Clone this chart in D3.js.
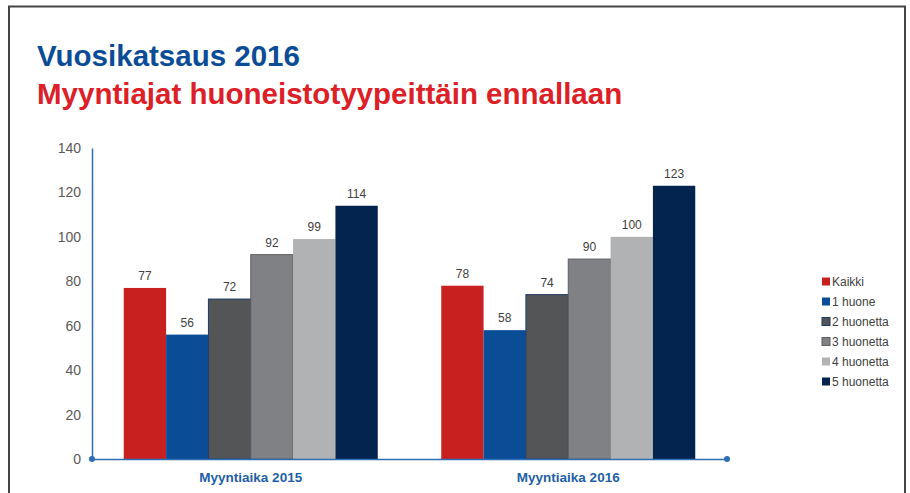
<!DOCTYPE html>
<html>
<head>
<meta charset="utf-8">
<script src="https://cdn.jsdelivr.net/npm/d3@7"></script>
<style>
	body { margin: 0; background: #fff; }
	svg { display: block; font-family: "Liberation Sans", Arial, sans-serif; }
</style>
</head>
<body>
<svg width="910" height="493"></svg>
<script>
/* DATA */
var categories = ["Myyntiaika 2015", "Myyntiaika 2016"];
var series = ["Kaikki", "1 huone", "2 huonetta", "3 huonetta", "4 huonetta", "5 huonetta"];
var values2015 = [77, 56, 72, 92, 99, 114];
var values2016 = [78, 58, 74, 90, 100, 123];
var yTicks = [0, 20, 40, 60, 80, 100, 120, 140];

var colors = ["#c8201f", "#0b4c97", "#545557", "#808184", "#b1b2b4", "#03244f"];
var strokes = ["none", "none", "#1d3a66", "#5e5f61", "none", "none"];

var rows = [values2015, values2016];

/* SVG */
var svg = d3.select("svg");

// frame
svg.append("rect")
	.attr("x", 9).attr("y", 6.5)
	.attr("width", 896).attr("height", 520)
	.attr("fill", "none")
	.attr("stroke", "#444")
	.attr("stroke-width", 2);

// titles
svg.append("text")
	.attr("x", 37).attr("y", 66)
	.attr("fill", "#0b4c97")
	.attr("font-weight", "bold")
	.attr("font-size", 29.5)
	.text("Vuosikatsaus 2016");

svg.append("text")
	.attr("x", 37).attr("y", 104)
	.attr("fill", "#dd2027")
	.attr("font-weight", "bold")
	.attr("font-size", 29.5)
	.text("Myyntiajat huoneistotyypeittäin ennallaan");

/* SCALES */
var x0 = d3.scaleBand()
	.domain(categories)
	.range([92, 727])
	.paddingInner(0.2)
	.paddingOuter(0.1);

var x1 = d3.scaleBand()
	.domain(series)
	.range([0, x0.bandwidth()]);

var y = d3.scaleLinear()
	.domain([0, 140])
	.range([459, 148]);

/* BARS */
var group = svg.append("g")
	.selectAll("g")
	.data(categories)
	.enter()
	.append("g")
	.attr("transform", function (d) {
		return `translate(${x0(d)},0)`;
	});

group.selectAll("rect")
	.data(function (d, i) {
		return series.map(function (s, j) {
			return { s: s, v: rows[i][j], j: j };
		});
	})
	.enter()
	.append("rect")
	.attr("x", function (d) { return x1(d.s); })
	.attr("y", function (d) { return y(d.v); })
	.attr("width", x1.bandwidth())
	.attr("height", function (d) { return y(0) - y(d.v); })
	.attr("fill", function (d) { return colors[d.j]; })
	.attr("stroke", function (d) { return strokes[d.j]; })
	.attr("stroke-width", 1);

group.selectAll("text")
	.data(function (d, i) {
		return series.map(function (s, j) {
			return { s: s, v: rows[i][j], j: j };
		});
	})
	.enter()
	.append("text")
	.attr("x", function (d) { return x1(d.s) + x1.bandwidth() / 2; })
	.attr("y", function (d) { return y(d.v) - 8; })
	.attr("text-anchor", "middle")
	.attr("font-size", 12)
	.attr("fill", "#404040")
	.text(function (d) { return d.v; });

/* AXES */
var axisColor = "#2f6db5";

var yAxis = svg.append("g")
	.attr("transform", "translate(92,0)")
	.call(d3.axisLeft(y).tickValues(yTicks).tickSize(0).tickPadding(11));
yAxis.select(".domain").attr("stroke", axisColor).attr("stroke-width", 1.5);
yAxis.selectAll("text")
	.attr("font-size", 14)
	.attr("fill", "#595959")
	.attr("font-family", "Liberation Sans, Arial, sans-serif");

var xAxis = svg.append("g")
	.attr("transform", "translate(0,459)")
	.call(d3.axisBottom(x0).tickSize(0).tickPadding(13));
xAxis.select(".domain").attr("stroke", axisColor).attr("stroke-width", 1.5);
xAxis.selectAll("text")
	.attr("font-size", 13.5)
	.attr("font-weight", "bold")
	.attr("fill", "#1f5fa8")
	.attr("font-family", "Liberation Sans, Arial, sans-serif");

// axis end dots
svg.selectAll("circle.end")
	.data([[92, 459], [727, 459]])
	.enter()
	.append("circle")
	.attr("class", "end")
	.attr("cx", function (d) { return d[0]; })
	.attr("cy", function (d) { return d[1]; })
	.attr("r", 3)
	.attr("fill", axisColor);

/* LEGEND */
var legend = svg.append("g")
	.attr("transform", "translate(822,282)")
	.selectAll("g")
	.data(series)
	.enter()
	.append("g")
	.attr("transform", function (d, i) {
		return `translate(0,${i * 20})`;
	});

legend.append("rect")
	.attr("x", 0).attr("y", -4.5)
	.attr("width", 8).attr("height", 8)
	.attr("fill", function (d, i) { return colors[i]; })
	.attr("stroke", function (d, i) { return strokes[i]; })
	.attr("stroke-width", 1);

legend.append("text")
	.attr("x", 10)
	.attr("dy", "0.35em")
	.attr("font-size", 12)
	.attr("fill", "#404040")
	.text(function (d) { return d; });
</script>
</body>
</html>
